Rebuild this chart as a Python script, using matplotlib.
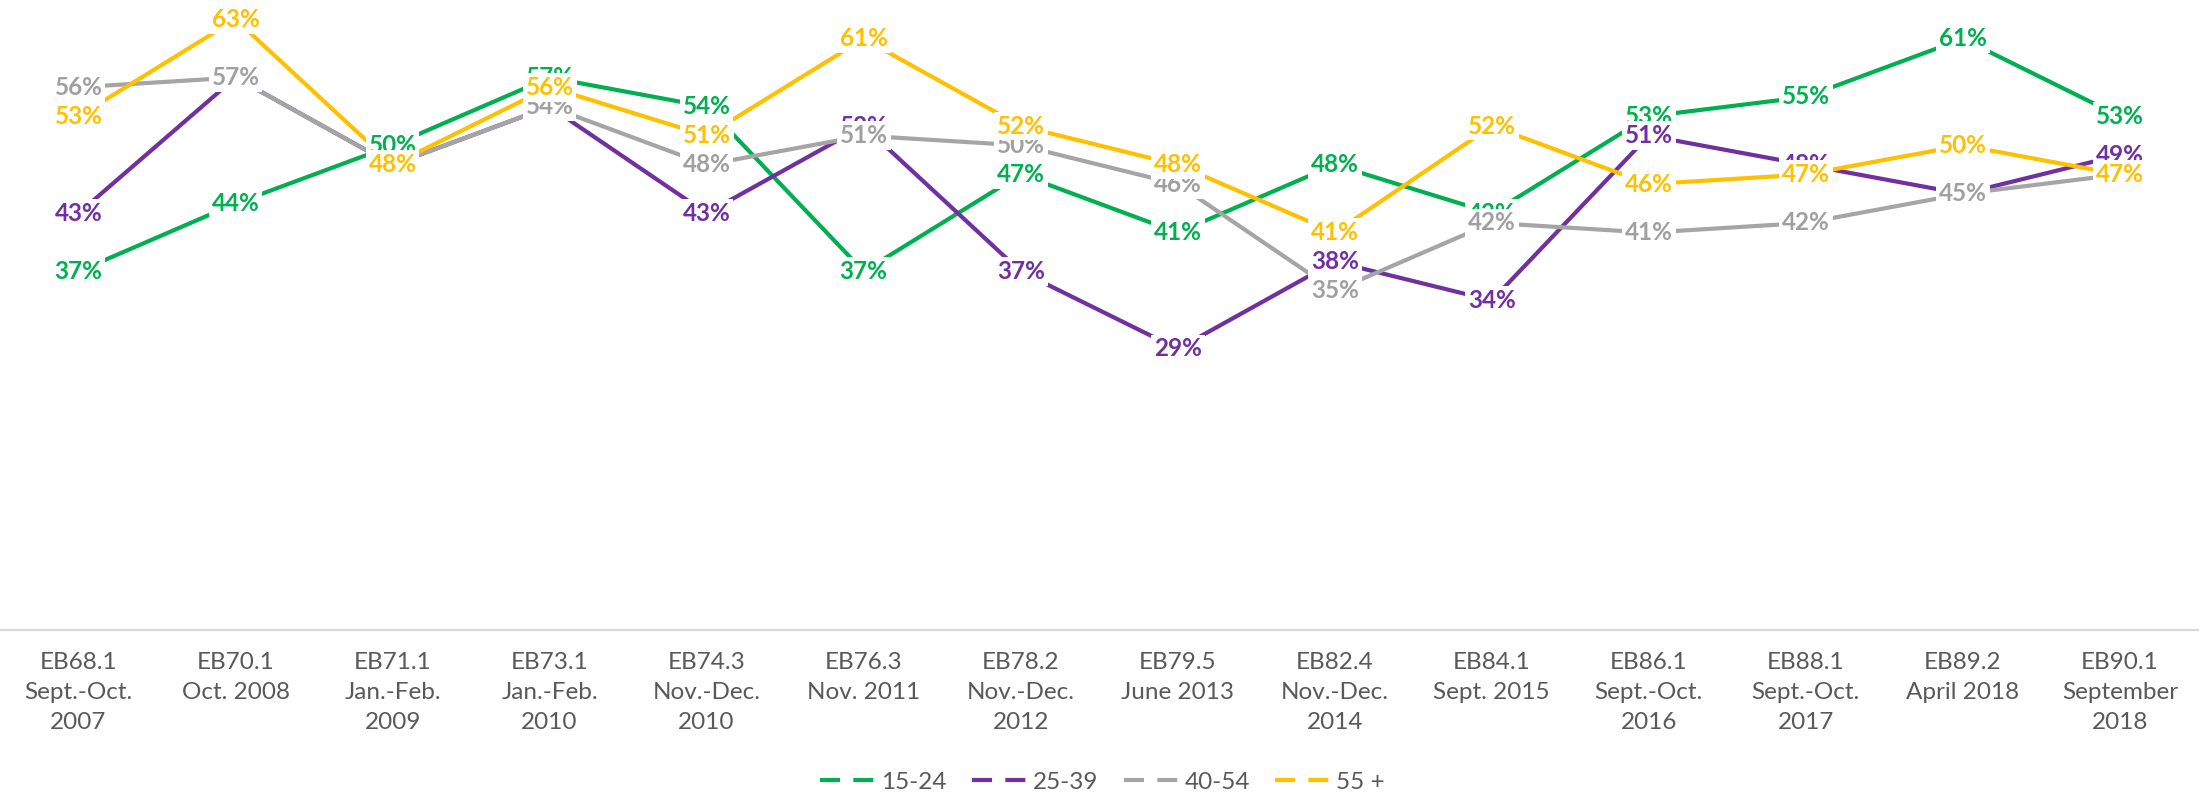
import matplotlib
matplotlib.use("Agg")
import matplotlib.pyplot as plt

categories = ["EB68.1\nSept.-Oct.\n2007", "EB70.1\nOct. 2008", "EB71.1\nJan.-Feb.\n2009",
              "EB73.1\nJan.-Feb.\n2010", "EB74.3\nNov.-Dec.\n2010", "EB76.3\nNov. 2011",
              "EB78.2\nNov.-Dec.\n2012", "EB79.5\nJune 2013", "EB82.4\nNov.-Dec.\n2014",
              "EB84.1\nSept. 2015", "EB86.1\nSept.-Oct.\n2016", "EB88.1\nSept.-Oct.\n2017",
              "EB89.2\nApril 2018", "EB90.1\nSeptember\n2018"]

age_15_24 = [37, 44, 50, 57, 54, 37, 47, 41, 48, 43, 53, 55, 61, 53]
age_25_39 = [43, 57, 48, 54, 43, 52, 37, 29, 38, 34, 51, 48, 45, 49]
age_40_54 = [56, 57, 48, 54, 48, 51, 50, 46, 35, 42, 41, 42, 45, 47]
age_55_plus = [53, 63, 48, 56, 51, 61, 52, 48, 41, 52, 46, 47, 50, 47]

series = [
    ("15-24", age_15_24, "#00B050", "#00B050"),
    ("25-39", age_25_39, "#7030A0", "#7030A0"),
    ("40-54", age_40_54, "#A5A5A5", "#A0A0A0"),
    ("55 +", age_55_plus, "#FFC000", "#FFC000"),
]

plt.rcParams['font.family'] = ['Lato', 'DejaVu Sans']

fig = plt.figure(figsize=(22.05, 7.92), dpi=100)
ax = fig.add_axes([0.0, (792 - 630) / 792, 0.997, 630 / 792])

x = list(range(len(categories)))
handles = []
for i, (name, vals, col, tcol) in enumerate(series):
    ax.plot(x, vals, color=col, lw=3, zorder=2 + i * 0.01)
    # dashed proxy only for the legend
    h, = ax.plot([], [], color=col, lw=3, dashes=(4.8, 3.2), label=name)
    handles.append(h)
    for xi, v in zip(x, vals):
        ax.text(xi, v, f"{v}%", color=tcol, fontsize=17.5, fontweight='bold',
                ha='center', va='center', zorder=10 + i,
                bbox=dict(boxstyle='square,pad=0.12', fc='white', ec='none'))

ax.set_xlim(-0.5, len(categories) - 0.5)
ax.set_ylim(0, 65)
ax.set_yticks([])
ax.set_xticks(x)
ax.set_xticklabels(categories, fontsize=17.5, color='#595959', linespacing=1.52)
ax.tick_params(axis='x', length=0, pad=16)
for s in ['top', 'right', 'left']:
    ax.spines[s].set_visible(False)
ax.spines['bottom'].set_color('#D9D9D9')
ax.spines['bottom'].set_linewidth(1.5)

fig.legend(handles, [s[0] for s in series], loc='center',
           bbox_to_anchor=(0.5, 10 / 792), ncol=4, frameon=False,
           fontsize=17.5, handlelength=2.3, handletextpad=0.2,
           columnspacing=1.05, labelcolor='#595959')

fig.savefig("out.png", dpi=100)
